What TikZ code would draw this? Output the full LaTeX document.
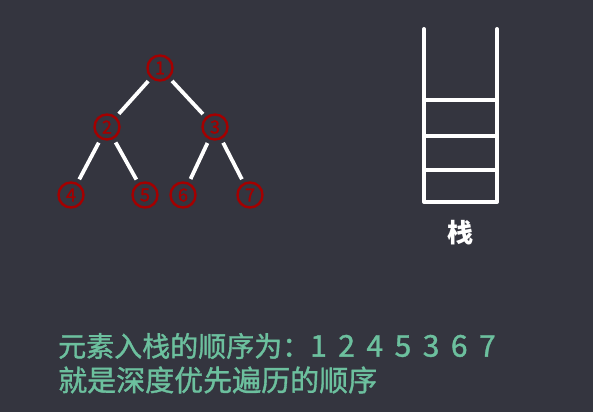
\documentclass[tikz,border=0pt]{standalone}
\usepackage{fontspec}
\newfontfamily\cjk{Noto Sans CJK SC}
\newfontfamily\cjkm[FakeBold=1.2]{Noto Sans CJK SC}
\definecolor{bgcol}{HTML}{34353F}
\definecolor{darkred}{HTML}{A30000}
\definecolor{textgreen}{HTML}{6CC09E}

\begin{document}
\begin{tikzpicture}[x=1pt, y=-1pt,
    vertex/.style={circle, draw=darkred, line width=2.4pt, text=darkred,
        minimum size=25pt, inner sep=0pt, font=\cjkm\fontsize{18}{18}\selectfont},
    branch/.style={white, line width=3.8pt, shorten <=4pt, shorten >=4pt},
    caption/.style={anchor=west, inner sep=0pt, text=textgreen}]
    % background
    \fill[bgcol] (0,0) rectangle (593,412);

    % binary tree
    \node[vertex] (n1) at (160,68) {1};
    \node[vertex] (n2) at (107,127) {2};
    \node[vertex] (n3) at (215,127) {3};
    \node[vertex] (n4) at (71,195) {4};
    \node[vertex] (n5) at (145,195) {5};
    \node[vertex] (n6) at (183,195) {6};
    \node[vertex] (n7) at (250,195) {7};
    \draw[branch] (n1) -- (n2);
    \draw[branch] (n1) -- (n3);
    \draw[branch] (n2) -- (n4);
    \draw[branch] (n2) -- (n5);
    \draw[branch] (n3) -- (n6);
    \draw[branch] (n3) -- (n7);

    % stack
    \draw[white, line width=4pt, line cap=round, line join=round]
        (424,29) -- (424,202) -- (497,202) -- (497,29);
    \foreach \y in {100,136,170}
        \draw[white, line width=4pt] (424,\y) -- (497,\y);
    \node[white, font=\cjk\bfseries\fontsize{26}{26}\selectfont] (stk) at (460,233) {栈};

    % text
    \node[caption, font=\cjkm\fontsize{28}{28}\selectfont] (line1) at (58,346)
        {元素入栈的顺序为：\fontsize{30}{30}\selectfont 1\hspace{11.5pt}2\hspace{11.5pt}4\hspace{11.5pt}5\hspace{11.5pt}3\hspace{11.5pt}6\hspace{11.5pt}7};
    \node[caption, font=\cjkm\fontsize{29}{29}\selectfont] (line2) at (58,380)
        {就是深度优先遍历的顺序};
\end{tikzpicture}
\end{document}
